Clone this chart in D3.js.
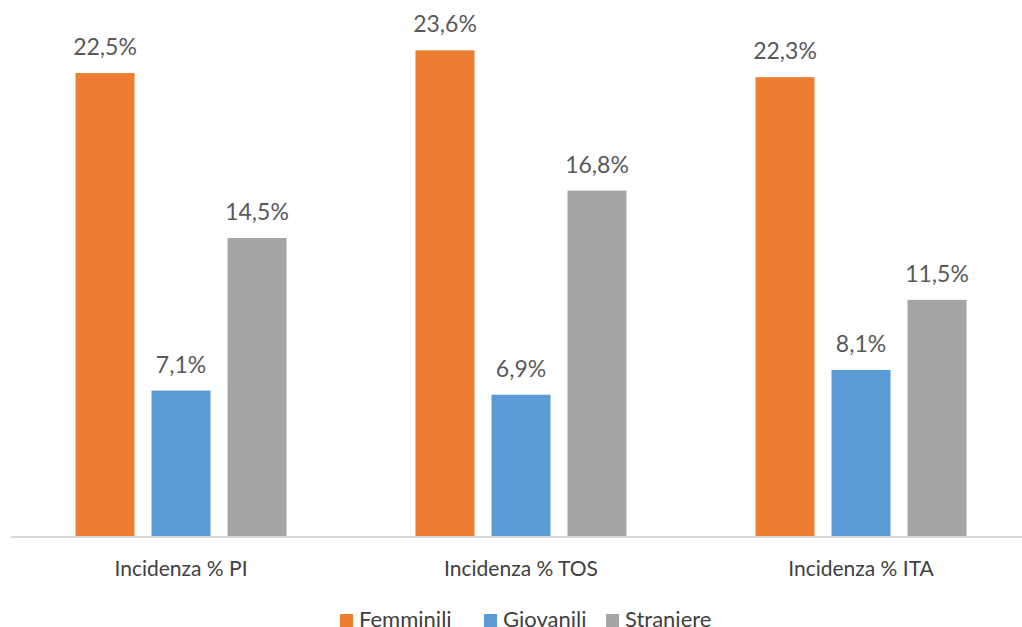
<!DOCTYPE html>
<html><head><meta charset="utf-8">
<script src="https://cdn.jsdelivr.net/npm/d3@7"></script>
<style>body{margin:0;background:#fff;} svg{display:block;}</style>
</head><body>
<svg id="c" width="1022" height="627"></svg>
<script>
const categories = ["Incidenza % PI", "Incidenza % TOS", "Incidenza % ITA"];
const seriesNames = ["Femminili", "Giovanili", "Straniere"];
const femminili = [22.5, 23.6, 22.3];
const giovanili = [7.1, 6.9, 8.1];
const straniere = [14.5, 16.8, 11.5];
const valueLabels = [["22,5%","23,6%","22,3%"],["7,1%","6,9%","8,1%"],["14,5%","16,8%","11,5%"]];
const colors = ["#ED7D31", "#5B9BD5", "#A5A5A5"];

const series = [femminili, giovanili, straniere];
const svg = d3.select("#c");
const font = "Lato, 'Open Sans', sans-serif";
const textColor = "#595959";

const x0 = d3.scaleBand().domain(categories).range([11, 1031]).paddingInner(0).paddingOuter(0);
const x1 = d3.scaleBand().domain(seriesNames).range([64.5, 340 - 64.5]).paddingInner(17/76).paddingOuter(0);
const y = d3.scaleLinear().domain([0, 25]).range([537, 537 - 25 * 20.62]);

const g = svg.append("g");
categories.forEach((cat, ci) => {
  const gg = g.append("g").attr("transform", `translate(${x0(cat)},0)`);
  seriesNames.forEach((s, si) => {
    const v = series[si][ci];
    gg.append("rect")
      .attr("x", x1(s)).attr("width", x1.bandwidth())
      .attr("y", y(v)).attr("height", y(0) - y(v))
      .attr("fill", colors[si]);
    gg.append("text")
      .attr("x", x1(s) + x1.bandwidth() / 2)
      .attr("y", y(v) - 18)
      .attr("text-anchor", "middle")
      .attr("font-family", font).attr("font-size", 23)
      .attr("fill", textColor)
      .text(valueLabels[si][ci]);
  });
});

// axis
const axis = d3.axisBottom(x0).tickSize(0).tickPadding(0);
const ax = svg.append("g").attr("transform", `translate(0,${y(0)})`).call(axis);
ax.select(".domain").attr("d", `M11,0H1022`).attr("stroke", "#D9D9D9").attr("stroke-width", 2);
ax.selectAll(".tick text").attr("font-family", font).attr("font-size", 21).attr("fill", "#404040").attr("dy", 0).attr("y", 39);

// legend
const legendX = [340, 484, 606];
const lg = svg.append("g");
seriesNames.forEach((s, i) => {
  lg.append("rect").attr("x", legendX[i]).attr("y", 614).attr("width", 13).attr("height", 13).attr("fill", colors[i]);
  lg.append("text").attr("x", legendX[i] + 19).attr("y", 627)
    .attr("font-family", font).attr("font-size", 22).attr("fill", "#404040").text(s);
});
</script>
</body></html>
